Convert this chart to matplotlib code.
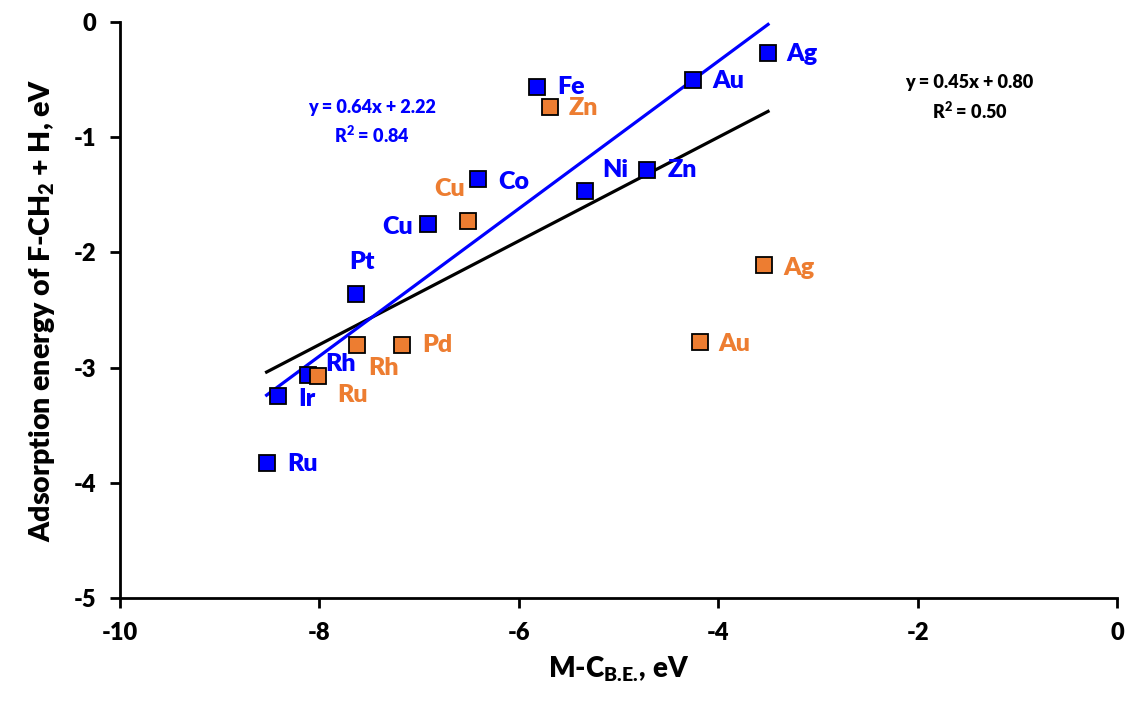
import matplotlib.pyplot as plt

plt.rcParams['font.family'] = ['Lato', 'DejaVu Sans']
plt.rcParams['font.weight'] = 'heavy'
plt.rcParams['axes.unicode_minus'] = False
plt.rcParams['mathtext.fontset'] = 'custom'
plt.rcParams['mathtext.bf'] = 'Lato:heavy'
plt.rcParams['mathtext.rm'] = 'Lato:heavy'
plt.rcParams['mathtext.default'] = 'bf'

# donnees
blue_names = ["Ag", "Au", "Fe", "Co", "Ni", "Zn", "Cu", "Pt", "Rh", "Ir", "Ru"]
blue_x = [-3.50, -4.25, -5.82, -6.41, -5.34, -4.71, -6.91, -7.63, -8.11, -8.42, -8.53]
blue_y = [-0.27, -0.50, -0.56, -1.36, -1.47, -1.28, -1.75, -2.36, -3.06, -3.25, -3.83]

orange_names = ["Zn", "Cu", "Ag", "Au", "Pd", "Rh", "Ru"]
orange_x = [-5.69, -6.51, -3.54, -4.18, -7.17, -7.62, -8.01]
orange_y = [-0.74, -1.73, -2.11, -2.78, -2.80, -2.80, -3.07]

blue_fit = (0.64, 2.22, 0.84)
black_fit = (0.45, 0.80, 0.50)

# decalages des etiquettes (pixels) : dx, dy, alignement
blue_offsets = [(18, -1, 'left'), (19, -1, 'left'), (20, 0, 'left'), (20, -3, 'left'),
                (18, 21, 'left'), (20, 0, 'left'), (-15, -3, 'right'), (6, 32, 'center'),
                (17, 11, 'left'), (21, -3, 'left'), (21, -1, 'left')]
orange_offsets = [(19, -1, 'left'), (-18, 32, 'center'), (19, -3, 'left'), (18, -2, 'left'),
                  (20, 0, 'left'), (11, -23, 'left'), (19, -19, 'left')]

BLUE = '#0000FF'
ORANGE = '#ED7D31'
W = 'heavy'

fig = plt.figure(figsize=(11.26, 7.04), dpi=100)
ax = fig.add_axes([0.1066, 0.1506, 0.8854, 0.818])

xmin, xmax = min(blue_x), max(blue_x)
for fit, col in [(black_fit, 'black'), (blue_fit, BLUE)]:
    a, b, r2 = fit
    ax.plot([xmin, xmax], [a * xmin + b, a * xmax + b], '-', color=col, lw=2.3, zorder=2)

ax.plot(blue_x, blue_y, 's', color=BLUE, mec='black', mew=1.3, ms=11.5, zorder=3)
ax.plot(orange_x, orange_y, 's', color=ORANGE, mec='black', mew=1.3, ms=11.5, zorder=3)

for names, xs, ys, offs, col in [(blue_names, blue_x, blue_y, blue_offsets, BLUE),
                                 (orange_names, orange_x, orange_y, orange_offsets, ORANGE)]:
    for n, x, y, (dx, dy, ha) in zip(names, xs, ys, offs):
        ax.annotate(n, (x, y), xytext=(dx, dy), textcoords='offset pixels',
                    ha=ha, va='center', color=col, fontsize=18, fontweight=W, zorder=4)

a, b, r2 = blue_fit
ax.text(0.253, 0.826, f"y = {a:.2f}x + {b:.2f}\nR$^2$ = {r2:.2f}", transform=ax.transAxes,
        ha='center', va='center', color=BLUE, fontsize=13, fontweight=W, linespacing=1.5)
a, b, r2 = black_fit
ax.text(0.852, 0.868, f"y = {a:.2f}x + {b:.2f}\nR$^2$ = {r2:.2f}", transform=ax.transAxes,
        ha='center', va='center', color='black', fontsize=13, fontweight=W, linespacing=1.5)

ax.set_xlim(-10, 0)
ax.set_ylim(-5, 0)
ax.set_xticks([-10, -8, -6, -4, -2, 0])
ax.set_yticks([0, -1, -2, -3, -4, -5])
ax.spines['top'].set_visible(False)
ax.spines['right'].set_visible(False)
ax.spines['left'].set_linewidth(2)
ax.spines['bottom'].set_linewidth(2)
ax.tick_params(direction='out', length=7, width=2, labelsize=17, pad=10)
for lab in ax.get_xticklabels() + ax.get_yticklabels():
    lab.set_fontweight(W)

ax.set_xlabel(r"M-C$_{B.\!E.\!}$, eV", fontsize=20, fontweight=W, labelpad=8)
ax.set_ylabel("Adsorption energy of F-CH$_2$ + H, eV", fontsize=20.5, fontweight=W, labelpad=12)

plt.savefig("out.png", dpi=100)
